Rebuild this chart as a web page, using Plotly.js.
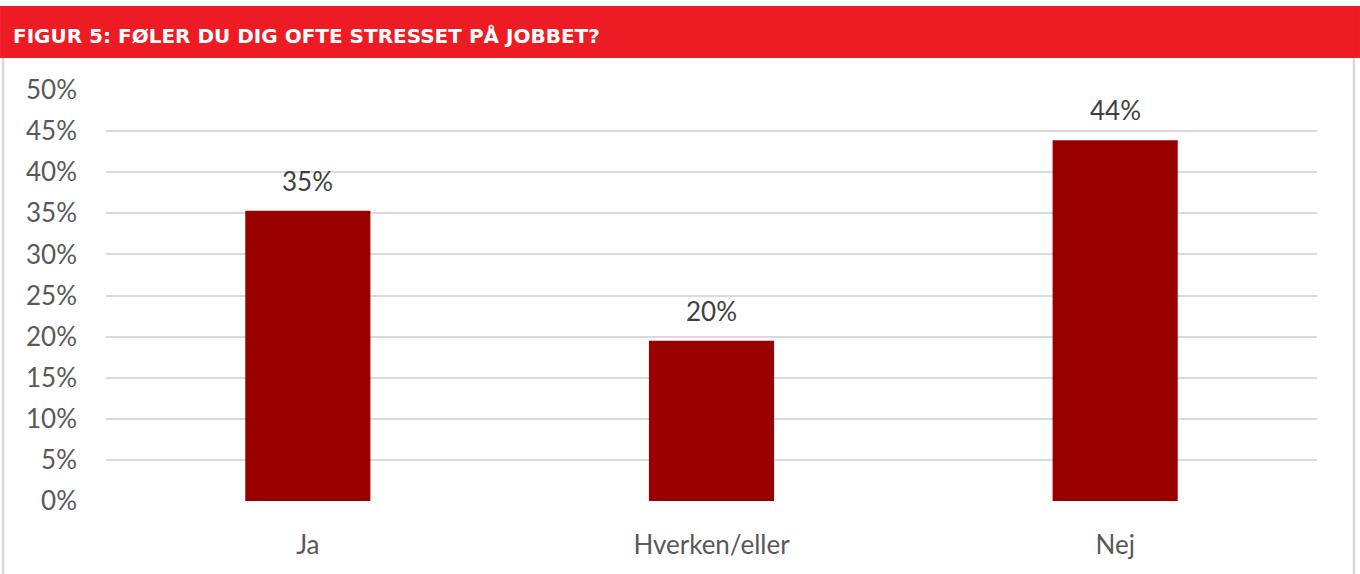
<!DOCTYPE html>
<html>
<head>
<meta charset="utf-8">
<script src="https://cdn.plot.ly/plotly-3.0.1.min.js"></script>
<style>html,body{margin:0;padding:0;background:#fff;}#chart{width:1360px;height:574px;}</style>
</head>
<body>
<div id="chart"></div>
<script>
const categories = ["Ja", "Hverken/eller", "Nej"];
const values = [0.353, 0.195, 0.439];
const labels = ["35%", "20%", "44%"];
const yTickVals = [0, 0.05, 0.10, 0.15, 0.20, 0.25, 0.30, 0.35, 0.40, 0.45, 0.50];
const yTickText = ["0%", "5%", "10%", "15%", "20%", "25%", "30%", "35%", "40%", "45%", "50%"];
const chartTitle = "FIGUR 5: FØLER DU DIG OFTE STRESSET PÅ JOBBET?";

const trace = {
  type: "bar",
  x: categories,
  y: values,
  width: 0.31,
  marker: {color: "#990000", line: {width: 0}},
  hoverinfo: "skip"
};

const annotations = categories.map((c, i) => ({
  x: c, y: values[i], xref: "x", yref: "y",
  text: labels[i], showarrow: false, yanchor: "bottom", yshift: 12,
  font: {family: "Lato, 'Open Sans', sans-serif", size: 26, color: "#404040"}
}));
annotations.push({
  xref: "paper", yref: "paper", x: -0.0785, y: 1.131, xanchor: "left", yanchor: "middle",
  text: "<b>" + chartTitle + "</b>", showarrow: false,
  font: {family: "'DejaVu Sans', sans-serif", size: 20, color: "#ffffff"}
});

const layout = {
  width: 1360, height: 574,
  margin: {l: 106, r: 43, t: 90, b: 73},
  paper_bgcolor: "#ffffff", plot_bgcolor: "#ffffff",
  showlegend: false,
  xaxis: {
    type: "category",
    showgrid: false, zeroline: false, showline: false, ticks: "",
    ticklabelstandoff: 26,
    tickfont: {family: "Lato, 'Open Sans', sans-serif", size: 26, color: "#595959"},
    fixedrange: true
  },
  yaxis: {
    range: [0, 0.5],
    tickvals: yTickVals, ticktext: yTickText,
    showgrid: true, gridcolor: "#d9d9d9", gridwidth: 2,
    zeroline: false, showline: false, ticks: "",
    ticklabelstandoff: 28,
    tickfont: {family: "Lato, 'Open Sans', sans-serif", size: 26, color: "#595959"},
    fixedrange: true
  },
  shapes: [
    {type: "rect", xref: "paper", yref: "paper", layer: "below",
     x0: -0.0875, x1: 1.0355, y0: 1.0779, y1: 1.2044,
     fillcolor: "#ed1c24", line: {width: 0}},
    {type: "line", xref: "paper", yref: "paper", x0: -0.0851, x1: -0.0851, y0: 1.0779, y1: -0.18,
     line: {color: "#d9d9d9", width: 2.5}},
    {type: "line", xref: "paper", yref: "paper", x0: 1.0305, x1: 1.0305, y0: 1.0779, y1: -0.18,
     line: {color: "#d9d9d9", width: 2.5}}
  ],
  annotations: annotations
};

Plotly.newPlot("chart", [trace], layout, {displayModeBar: false, staticPlot: true});
</script>
</body>
</html>
